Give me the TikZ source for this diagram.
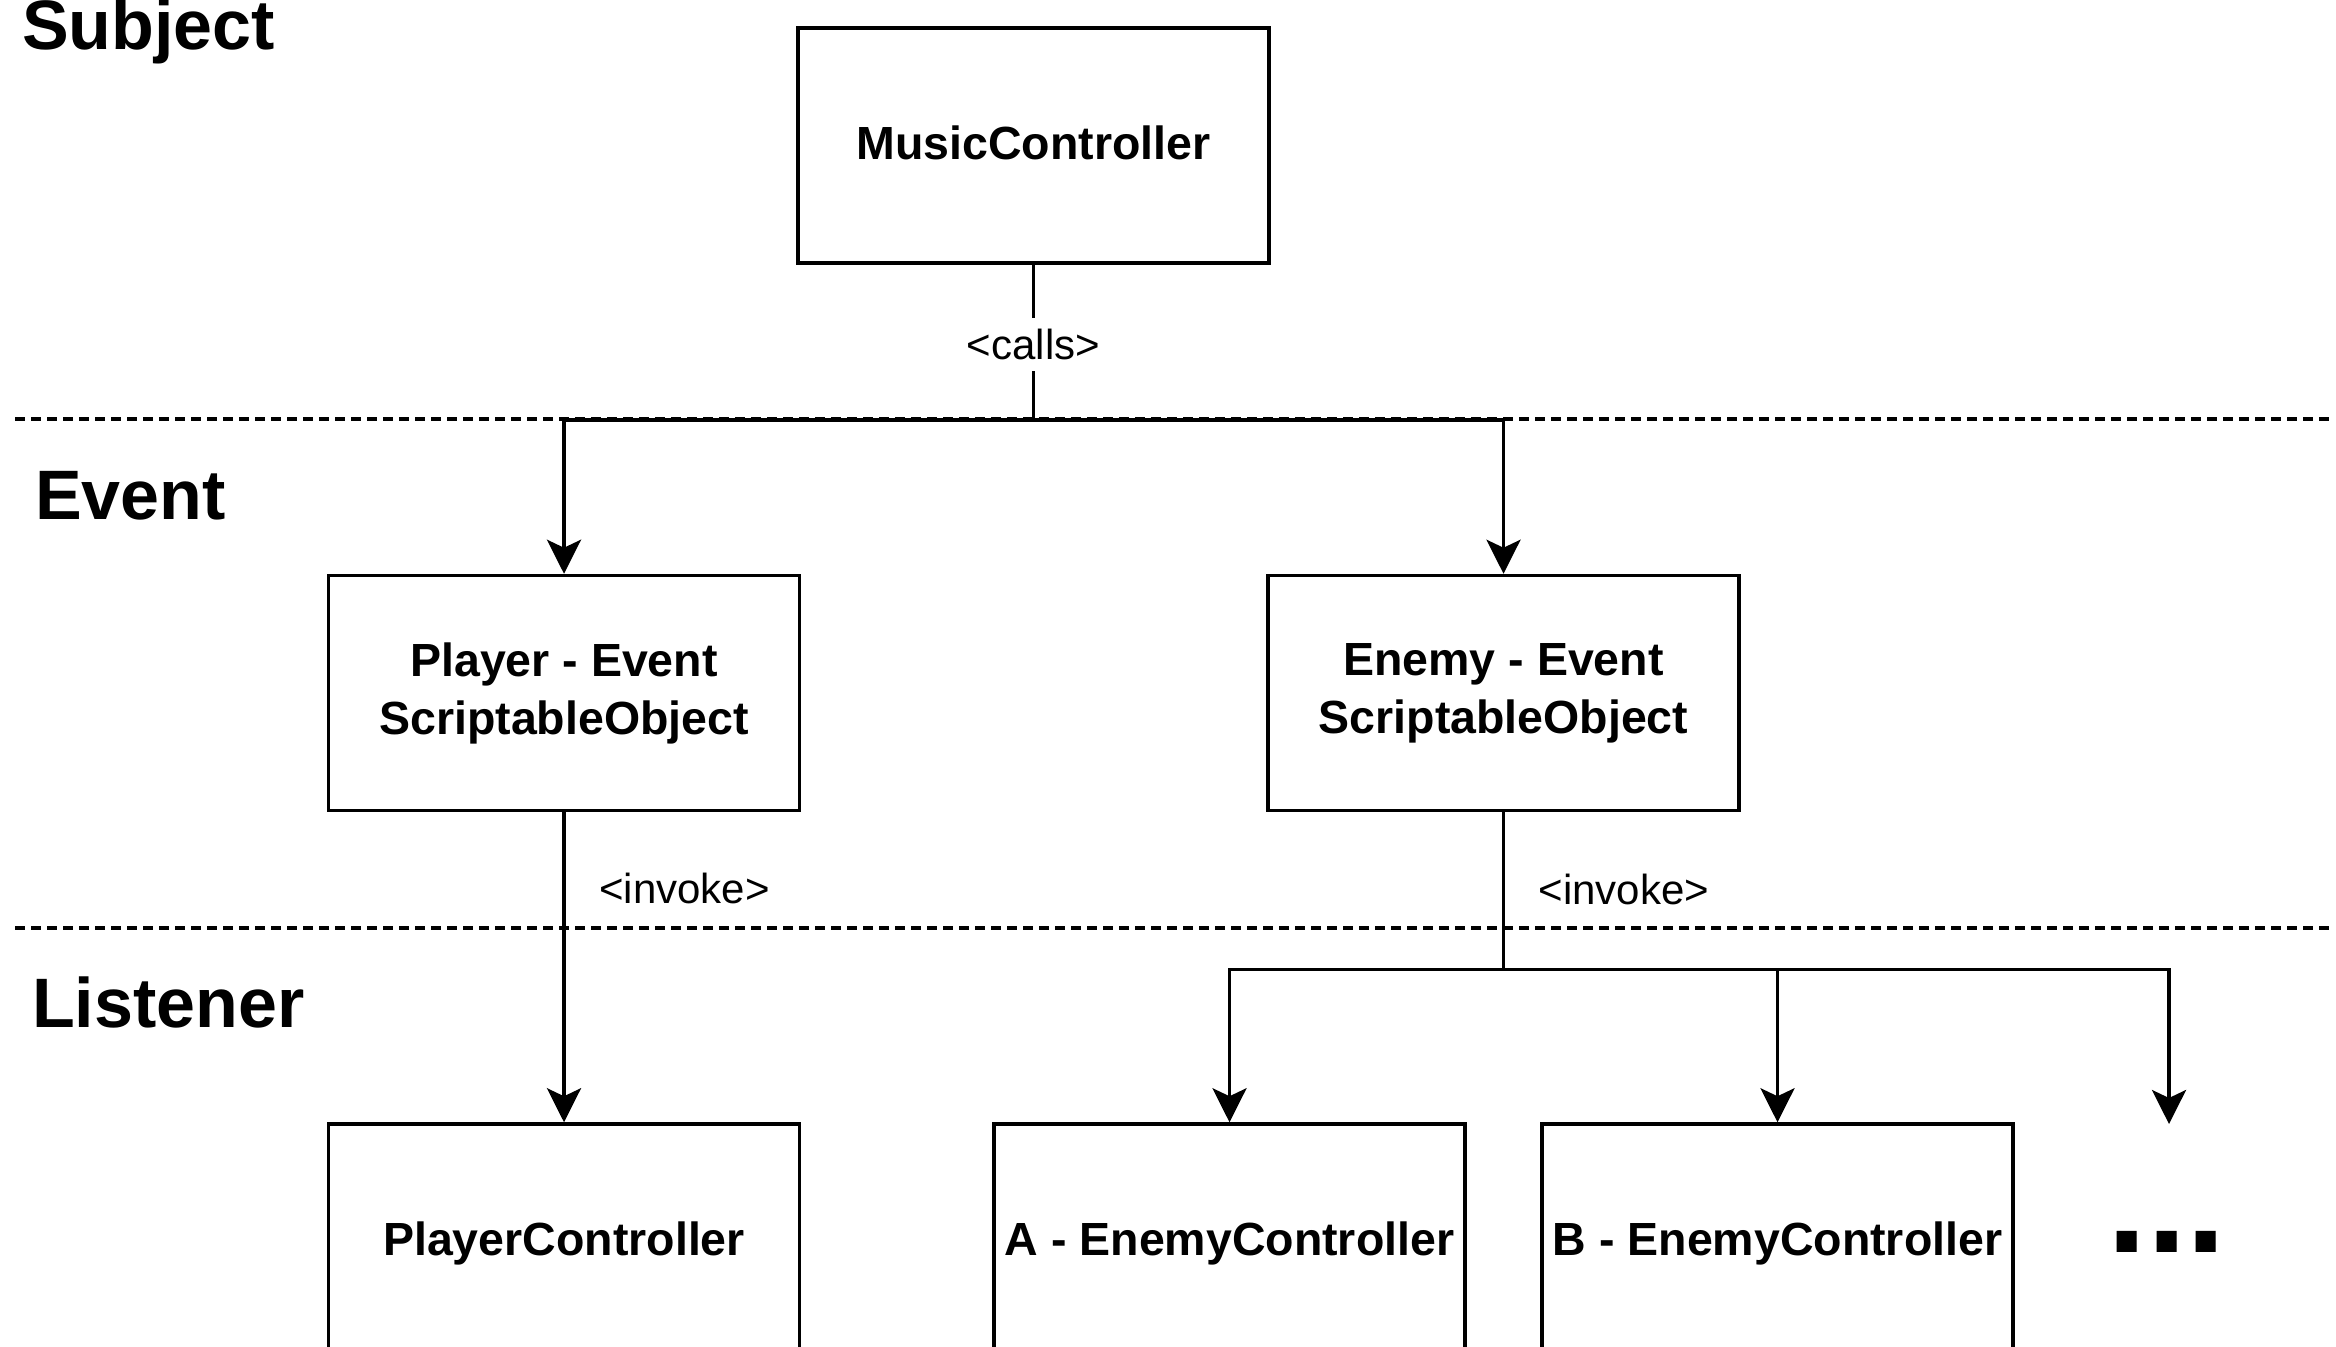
\documentclass[tikz,border=0pt]{standalone}
\usepackage{fontspec}
\setmainfont{Liberation Sans}
\usetikzlibrary{arrows.meta}
\begin{document}
\begin{tikzpicture}[x=1pt,y=-1pt,
  box/.style={draw, line width=3.5pt, minimum width=471pt, minimum height=235pt,
    inner sep=0pt, align=center, font=\fontsize{46.5}{58}\selectfont\bfseries},
  oneline/.style={text height=28pt, text depth=0pt},
  title/.style={anchor=base west, inner sep=0pt, font=\fontsize{70}{80}\selectfont\bfseries},
  lbl/.style={inner sep=0pt, font=\fontsize{42}{50}\selectfont},
  calllbl/.style={lbl, fill=white, text height=31pt, text depth=0pt, inner ysep=11pt, inner xsep=3pt},
  conn/.style={line width=3.5pt},
  arr/.style={conn, -{Stealth[length=34pt,width=34pt,inset=8pt]}},
  sep/.style={line width=3.3pt, dash pattern=on 10pt off 6pt}]
\useasboundingbox (0,0) rectangle (2336,1346);
\clip (0,0) rectangle (2336,1346);
\fill[white] (0,0) rectangle (2336,1346);

% separators
\coordinate (s1a) at (15,419);
\coordinate (s1b) at (2331,419);
\coordinate (s2a) at (15,928);
\coordinate (s2b) at (2331,928);
\draw[sep] (s1a) -- (s1b);
\draw[sep] (s2a) -- (s2b);

% section titles
\node[title] (tsubject) at (22,50) {Subject};
\node[title] (tevent) at (35,519) {Event};
\node[title] (tlistener) at (32,1027) {Listener};

% boxes
\node[box, oneline] (mc) at (1033.5,145.5) {MusicController};
\node[box] (pe) at (564,693) {Player - Event\\ScriptableObject};
\node[box] (ee) at (1503.5,693) {Enemy - Event\\ScriptableObject};
\node[box, oneline] (pc) at (564,1241.5) {PlayerController};
\node[box, oneline] (ac) at (1229.5,1241.5) {A - EnemyController};
\node[box, oneline] (bc) at (1777.5,1241.5) {B - EnemyController};
\node[anchor=base, inner sep=0pt, font=\fontsize{142}{150}\selectfont\bfseries] (dots) at (2167,1252) {...};
\coordinate (dotsin) at (2169,1124);

% connectors
\draw[arr] (mc.south) -- ++(0,155) -| (ee.north);
\draw[arr] (mc.south) -- node[calllbl, pos=0.513] (calls) {<calls>} ++(0,155) -| (pe.north);

\draw[arr] (pe.south) -- node[lbl, pos=0.2955, anchor=base west, xshift=33.5pt] (inv1) {<invoke>} (pc.north);

\draw[arr] (ee.south) -- ++(0,157) -| (bc.north);
\draw[arr] (ee.south) -- ++(0,157) -| (dotsin);
\draw[arr] (ee.south) -- node[lbl, pos=0.585, anchor=base west, xshift=33.5pt] (inv2) {<invoke>} ++(0,157) -| (ac.north);
\end{tikzpicture}
\end{document}
